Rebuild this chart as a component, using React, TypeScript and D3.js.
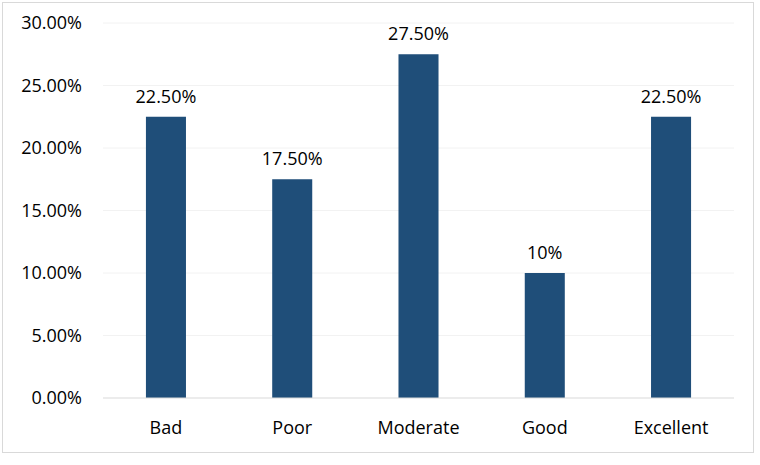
import React from "react";
import * as d3 from "d3";

const categories = ["Bad", "Poor", "Moderate", "Good", "Excellent"];
const values = [0.225, 0.175, 0.275, 0.1, 0.225];
const valueLabels = ["22.50%", "17.50%", "27.50%", "10%", "22.50%"];
const yTicks = [0, 0.05, 0.1, 0.15, 0.2, 0.25, 0.3];

export default function App() {
  const W = 760, H = 465;
  const left = 103, right = 734, top = 23, bottom = 398;
  const x = d3.scaleBand<string>().domain(categories).range([left, right]).paddingInner(0.683).paddingOuter(0.34);
  const y = d3.scaleLinear().domain([0, 0.3]).range([bottom, top]);
  const fmt = d3.format(".2%");
  const font = "'Open Sans', sans-serif";
  const fs = 18;
  return (
    <svg width={W} height={H} style={{ position: "absolute", left: 0, top: 0 }}>
      <rect x={0} y={0} width={W} height={H} fill="#fff" />
      <rect x={2.5} y={2.5} width={751} height={450} fill="none" stroke="#d9d9d9" strokeWidth={1} />
      {yTicks.map((t) => (
        <g key={t}>
          {t > 0 && <line x1={left} x2={right} y1={y(t)} y2={y(t)} stroke="#f2f2f2" strokeWidth={1} />}
          <text x={82} y={y(t)} dy="0.35em" textAnchor="end" fontFamily={font} fontSize={fs} fill="#000">
            {fmt(t)}
          </text>
        </g>
      ))}
      {categories.map((c, i) => (
        <g key={c}>
          <rect x={x(c)} y={y(values[i])} width={x.bandwidth()} height={bottom - y(values[i])} fill="#1f4e79" />
          <text x={(x(c) as number) + x.bandwidth() / 2} y={y(values[i]) - 14} textAnchor="middle" fontFamily={font} fontSize={fs} fill="#000">
            {valueLabels[i]}
          </text>
          <text x={(x(c) as number) + x.bandwidth() / 2} y={434} textAnchor="middle" fontFamily={font} fontSize={fs} fill="#000">
            {c}
          </text>
        </g>
      ))}
      <line x1={left} x2={right} y1={bottom} y2={bottom} stroke="#d9d9d9" strokeWidth={1} />
    </svg>
  );
}
